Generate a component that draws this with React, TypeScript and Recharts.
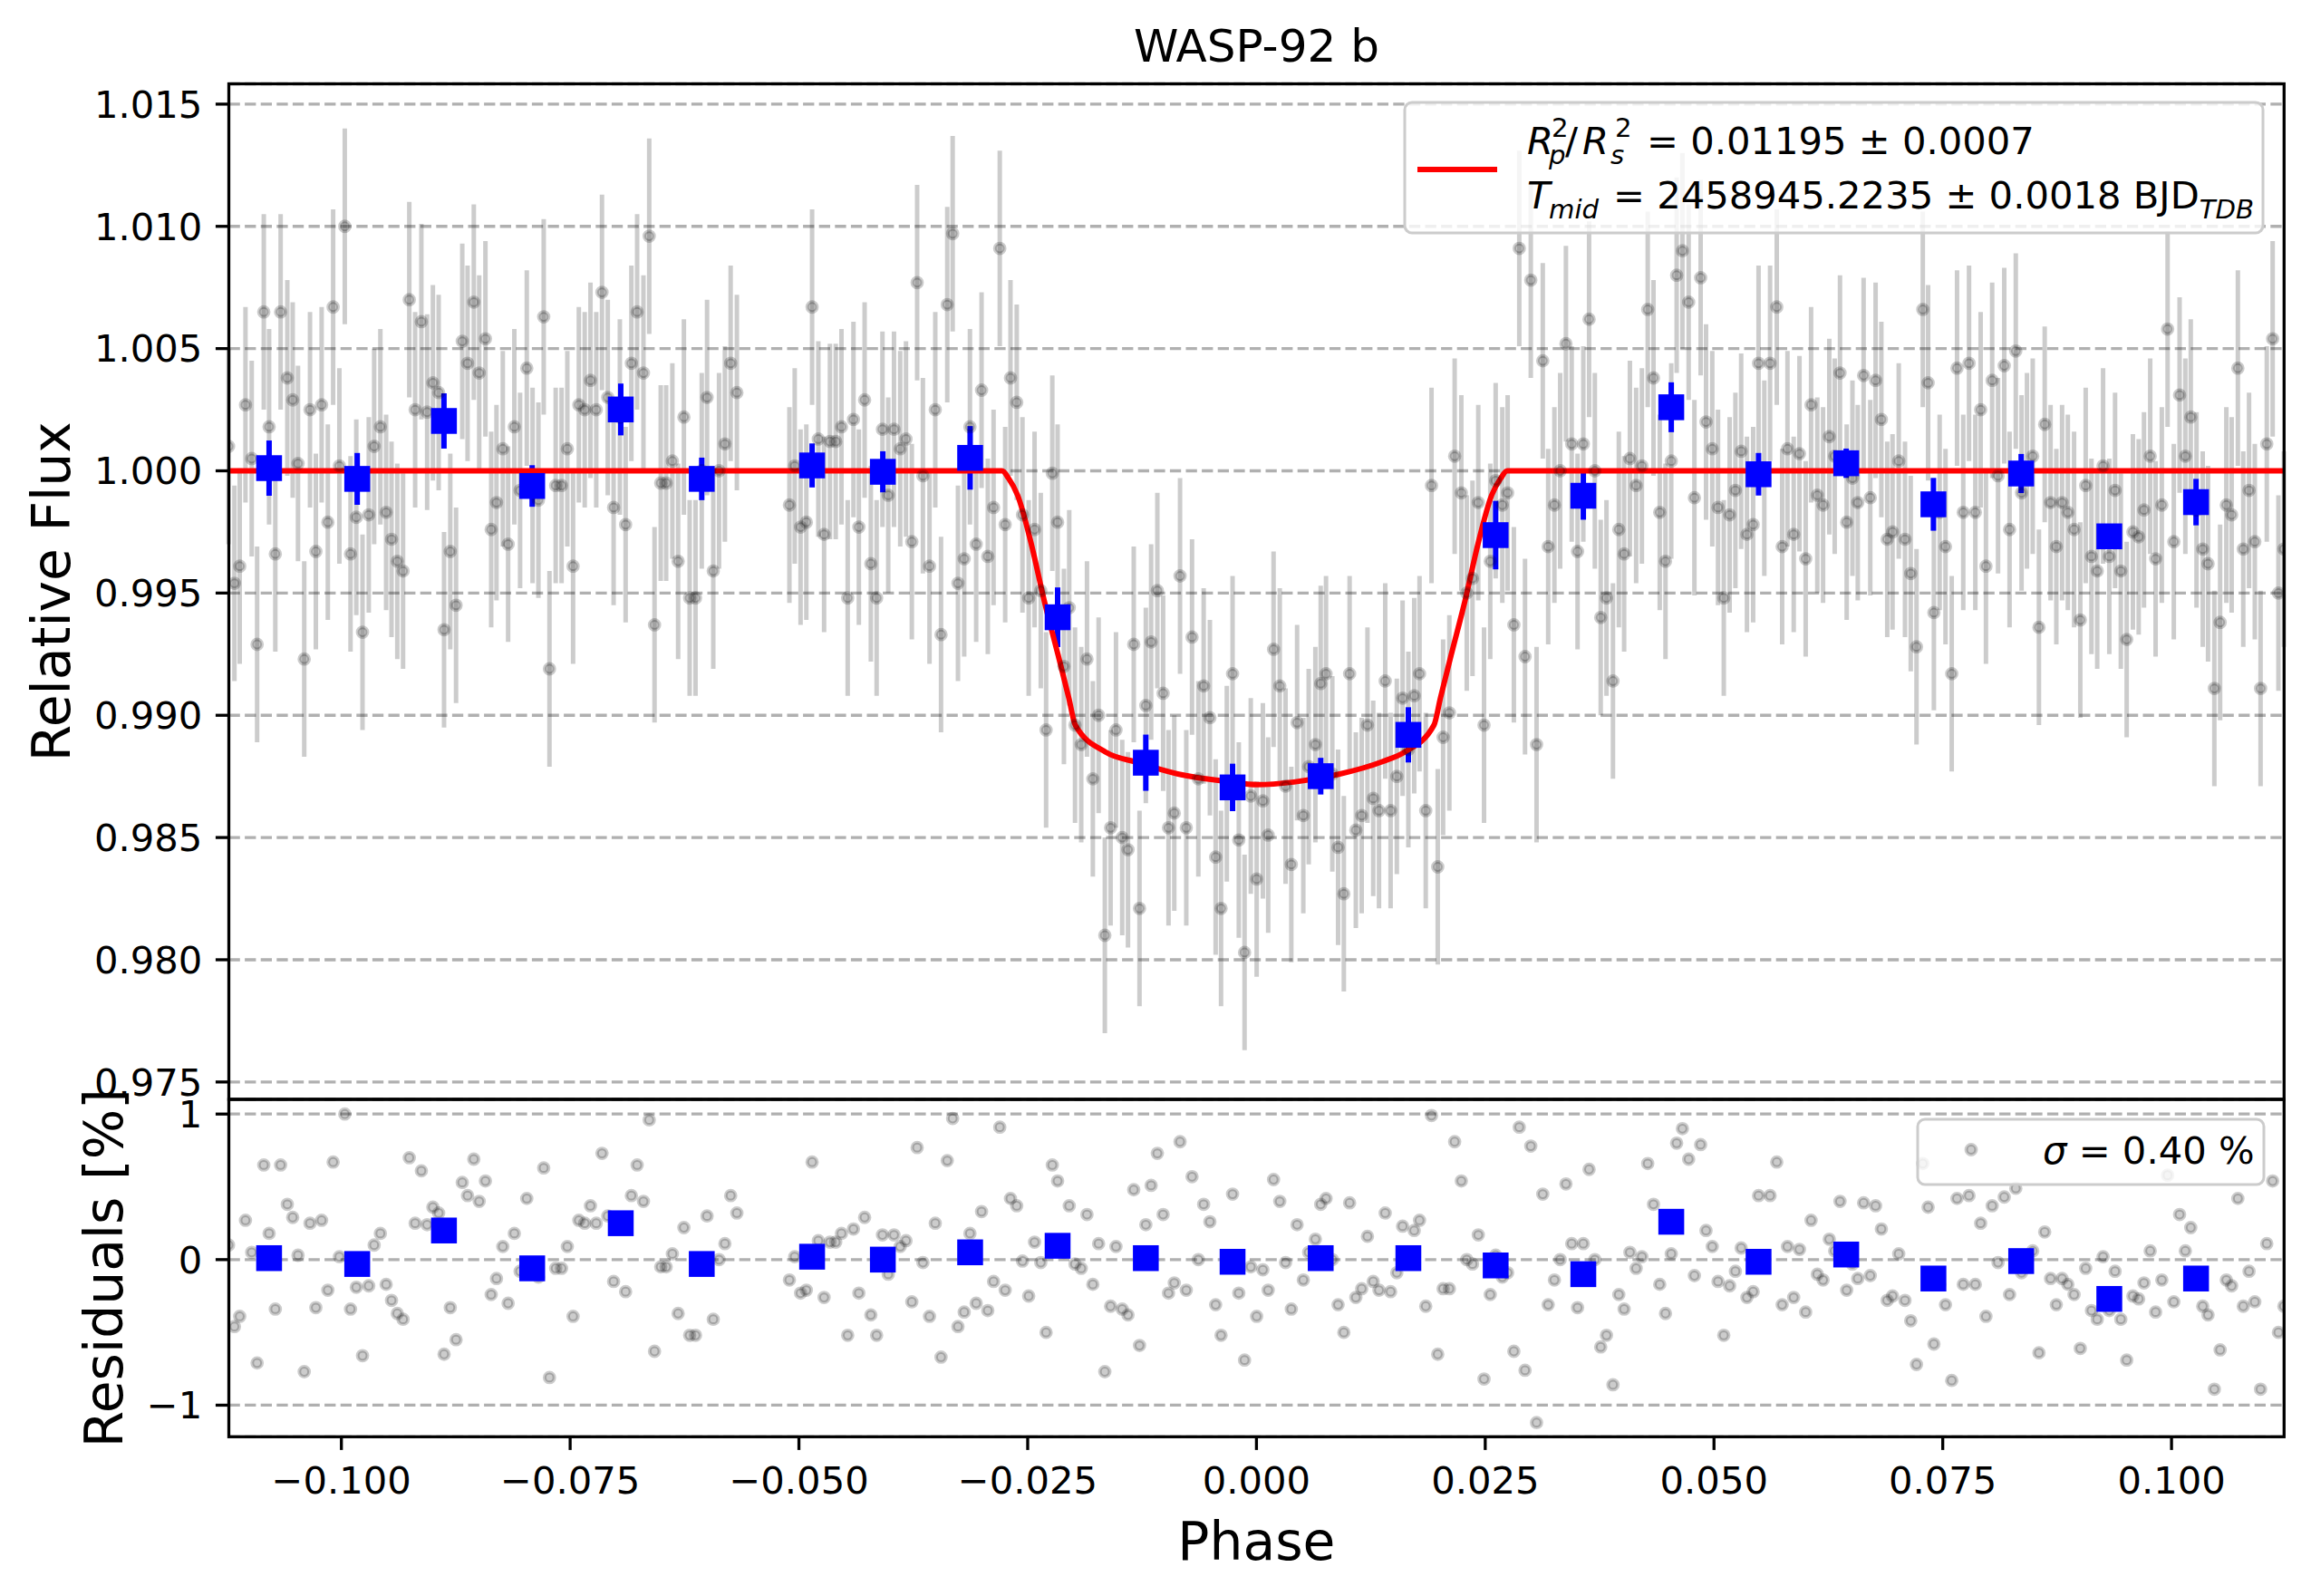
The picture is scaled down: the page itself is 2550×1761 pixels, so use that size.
import React from "react";
import {
  CartesianGrid,
  ComposedChart,
  ErrorBar,
  Line,
  Scatter,
  XAxis,
  YAxis,
} from "recharts";

const FONT = "'DejaVu Sans', sans-serif";
const W = 2550;
const H = 1761;

// plot box edges in page pixels
const LEFT = 252.5;
const RIGHT = 2520.3;
const TOP = 92.5;
const SPLIT = 1213;
const BOTTOM = 1585.3;
const Y_AXIS_W = 100;
const X_AXIS_H = 80;

const PHASE_DOMAIN = [-0.1123, 0.1123];
const FLUX_DOMAIN = [0.97429, 1.01583];
const RESID_DOMAIN = [-1.217, 1.101];

const PHASE_TICKS = [-0.1, -0.075, -0.05, -0.025, 0, 0.025, 0.05, 0.075, 0.1];
const FLUX_TICKS = [0.975, 0.98, 0.985, 0.99, 0.995, 1.0, 1.005, 1.01, 1.015];
const RESID_TICKS = [-1, 0, 1];

// unbinned light curve
const PHASE = [
  -0.11233, -0.11169, -0.11111, -0.11048, -0.1098, -0.10921, -0.10848, -0.1079, -0.10722, -0.10664,
  -0.10591, -0.10532, -0.10474, -0.10406, -0.10343, -0.10279, -0.10216, -0.10148, -0.1009, -0.10022,
  -0.09963, -0.099, -0.09837, -0.09769, -0.09701, -0.09642, -0.09574, -0.09511, -0.09452, -0.09389,
  -0.09326, -0.09258, -0.09194, -0.09126, -0.09063, -0.09, -0.08937, -0.08878, -0.0881, -0.08747,
  -0.08679, -0.08621, -0.08553, -0.08494, -0.08426, -0.08363, -0.08305, -0.08236, -0.08178, -0.0811,
  -0.08047, -0.07974, -0.07911, -0.07847, -0.07789, -0.07726, -0.07658, -0.07594, -0.07531, -0.07468,
  -0.07405, -0.07341, -0.07278, -0.07215, -0.07152, -0.07089, -0.07025, -0.06957, -0.06894, -0.06831,
  -0.06768, -0.06699, -0.06636, -0.06578, -0.0651, -0.06451, -0.06383, -0.0632, -0.06257, -0.06194,
  -0.0613, -0.06062, -0.06004, -0.05936, -0.05873, -0.05809, -0.05746, -0.05678,
  -0.05104, -0.05046, -0.04982, -0.04919, -0.04856, -0.04788, -0.04725, -0.04661, -0.04598, -0.04535,
  -0.04467, -0.04404, -0.04345, -0.04282, -0.04214, -0.04151, -0.04087, -0.04024, -0.03961, -0.03893,
  -0.0383, -0.03766, -0.03708, -0.03645,
  -0.03573, -0.0351, -0.03447, -0.03379, -0.0332, -0.03262, -0.03194, -0.03131, -0.03063, -0.03004,
  -0.02936, -0.02873, -0.02805, -0.02746, -0.02688, -0.0262, -0.02557, -0.02489, -0.02425, -0.02357,
  -0.02299, -0.02231, -0.02173, -0.02104, -0.02046, -0.01983, -0.01915, -0.01852, -0.01788, -0.01725,
  -0.01657, -0.01594, -0.01535, -0.01467, -0.01404, -0.01341, -0.01278, -0.01209, -0.01151, -0.01083,
  -0.0102, -0.00961, -0.00898, -0.00835, -0.00767, -0.00704, -0.00635, -0.00577, -0.00509, -0.00446,
  -0.00387, -0.00324, -0.00261, -0.00193, -0.0013, -0.00062, 0.00002, 0.0007, 0.00128, 0.00187,
  0.00255, 0.00318, 0.00381, 0.00444, 0.00512, 0.00571, 0.00644, 0.00702, 0.0076, 0.00829,
  0.00892, 0.00955, 0.01018, 0.01086, 0.0115, 0.01213, 0.01276, 0.01339, 0.01407, 0.01466,
  0.01534, 0.01597, 0.0166, 0.01724, 0.01782, 0.0185, 0.01913, 0.01981, 0.0204, 0.02108,
  0.02166, 0.02239, 0.02298, 0.02361, 0.02424, 0.02487, 0.02555, 0.02614, 0.02687, 0.02745,
  0.02813, 0.02872, 0.02935, 0.02998, 0.03061, 0.03129, 0.03188, 0.03256, 0.03319, 0.03382,
  0.03445, 0.03509, 0.03572, 0.03635, 0.03698, 0.03762, 0.03825,
  0.03896, 0.0396, 0.04018, 0.04081, 0.04149, 0.04212, 0.04276, 0.04339, 0.04407, 0.0447,
  0.04533, 0.04592, 0.04655, 0.04723, 0.04786, 0.04854, 0.04913, 0.04981, 0.05044, 0.05107,
  0.05171, 0.05234, 0.05297, 0.0536, 0.05428, 0.05487, 0.0555, 0.05613, 0.05686, 0.05745,
  0.05803, 0.05871, 0.05934, 0.06002, 0.06061, 0.06129, 0.06192, 0.0626, 0.06319, 0.06377,
  0.0645, 0.06513, 0.06571, 0.06635, 0.06708, 0.06766, 0.06829, 0.06893, 0.06951, 0.07019,
  0.07087, 0.0715, 0.07213, 0.07282, 0.0734, 0.07403, 0.07466, 0.0753, 0.07598, 0.07656,
  0.07724, 0.07787, 0.07856, 0.07914, 0.07972, 0.0804, 0.08104, 0.08172, 0.0823, 0.08298,
  0.08361, 0.0842, 0.08483, 0.08551, 0.08614, 0.08678, 0.08741, 0.08804, 0.08867, 0.08935,
  0.09003, 0.09062, 0.09125, 0.09188, 0.09252, 0.0932, 0.09383, 0.09446, 0.0951, 0.09578,
  0.09641, 0.09699, 0.09767, 0.09826, 0.09894, 0.09957, 0.10025, 0.10088, 0.10151, 0.1021,
  0.10273, 0.10341, 0.10399, 0.10468, 0.10531, 0.10599, 0.10657, 0.10725, 0.10784, 0.10847,
  0.1091, 0.10973, 0.11041, 0.11105, 0.11168, 0.11228,
];

const FLUX = [
  1.001, 0.9954, 0.9961, 1.0027, 1.0005, 0.9929, 1.0065, 1.0018, 0.9966, 1.0065,
  1.0038, 1.0029, 1.0003, 0.9923, 1.0025, 0.9967, 1.0027, 0.9979, 1.0067, 1.0002,
  1.01, 0.9966, 0.9981, 0.9934, 0.9982, 1.001, 1.0018, 0.9983, 0.9972, 0.9963,
  0.9959, 1.007, 1.0025, 1.0061, 1.0024, 1.0036, 1.0032, 0.9935, 0.9967, 0.9945,
  1.0053, 1.0044, 1.0069, 1.004, 1.0054, 0.9976, 0.9987, 1.0009, 0.997, 1.0018,
  0.9992, 1.0042, 0.9994, 0.9988, 1.0063, 0.9919, 0.9994, 0.9994, 1.0009, 0.9961,
  1.0027, 1.0025, 1.0037, 1.0025, 1.0073, 1.003, 0.9985, 1.0022, 0.9978, 1.0044,
  1.0065, 1.004, 1.0096, 0.9937, 0.9995, 0.9995, 1.0004, 0.9963, 1.0022, 0.9948,
  0.9948, 1.0, 1.003, 0.9959, 1.0, 1.0011, 1.0044, 1.0032,
  0.9986, 1.0002, 0.9977, 0.9979, 1.0067, 1.0013, 0.9974, 1.0012, 1.0012, 1.0018,
  0.9948, 1.0021, 0.9977, 1.0029, 0.9962, 0.9948, 1.0017, 0.999, 1.0017, 1.0009,
  1.0013, 0.9971, 1.0077, 0.9998,
  0.9961, 1.0025, 0.9933, 1.0068, 1.0097, 0.9954, 0.9964, 1.0018, 0.997, 1.0033,
  0.9965, 0.9985, 1.0091, 0.9978, 1.0038, 1.0028, 0.9982, 0.9948, 0.9976, 0.9951,
  0.9894, 0.9999, 0.9979, 0.992, 0.9944, 0.9896, 0.9888, 0.9923, 0.9874, 0.99,
  0.981, 0.9854, 0.9894, 0.985, 0.9845, 0.9929, 0.9821, 0.9904, 0.993, 0.9951,
  0.9909, 0.9854, 0.986, 0.9957, 0.9854, 0.9932, 0.9874, 0.9912, 0.9899, 0.9842,
  0.9821, 0.9872, 0.9917, 0.9849, 0.9803, 0.9867, 0.9833, 0.9865, 0.9851, 0.9927,
  0.9912, 0.9871, 0.9839, 0.9897, 0.9859, 0.9879, 0.9888, 0.9913, 0.9917, 0.9876,
  0.9846, 0.9827, 0.9917, 0.9853, 0.9859, 0.9896, 0.9866, 0.9861, 0.9914, 0.9861,
  0.9875, 0.9907, 0.9886, 0.9908, 0.9917, 0.9861, 0.9994, 0.9838, 0.9891, 0.9901,
  1.0006, 0.9991, 0.995, 0.9956, 0.9987, 0.9896, 0.9963, 0.9996, 0.9986, 0.9991,
  0.9937, 1.0091, 0.9924, 1.0078, 0.9888, 1.0045, 0.9969, 0.9986, 1.0, 1.0052,
  1.0011, 0.9967, 1.0011, 1.0062, 1.0, 0.994, 0.9948,
  0.9914, 0.9976, 0.9966, 1.0005, 0.9994, 1.0002, 1.0066, 1.0038, 0.9983, 0.9963,
  1.0004, 1.008, 1.009, 1.0069, 0.9989, 1.0079, 1.002, 1.0009, 0.9985, 0.9948,
  0.9982, 0.9992, 1.0008, 0.9974, 0.9978, 1.0044, 0.9997, 1.0044, 1.0067, 0.9969,
  1.0009, 0.9974, 1.0007, 0.9964, 1.0027, 0.999, 0.9986, 1.0014, 1.0006, 1.004,
  0.9979, 0.9997, 0.9987, 1.0039, 0.9989, 1.0037, 1.0021, 0.9972, 0.9975, 1.0004,
  0.9972, 0.9958, 0.9928, 1.0066, 1.0036, 0.9942, 0.9983, 0.9969, 0.9917, 1.0042,
  0.9983, 1.0044, 0.9983, 1.0025, 0.9961, 1.0037, 0.9998, 1.0043, 0.9976, 1.0049,
  0.9991, 1.0, 1.0006, 0.9936, 1.0019, 0.9987, 0.9969, 0.9987, 0.9983, 0.9976,
  0.9939, 0.9994, 0.9965, 0.9959, 1.0002, 0.9965, 0.9992, 0.9959, 0.9931, 0.9975,
  0.9973, 0.9984, 1.0006, 0.9964, 0.9986, 1.0058, 0.9971, 1.0031, 1.0006, 1.0022,
  0.9984, 0.9968, 0.9962, 0.9911, 0.9938, 0.9986, 0.9982, 1.0042, 0.9968, 0.9992,
  0.9971, 0.9911, 1.0011, 1.0054, 0.995, 0.9968,
];

// residuals in percent
const RESID = [
  0.1, -0.46, -0.39, 0.27, 0.05, -0.71, 0.65, 0.18, -0.34, 0.65,
  0.38, 0.29, 0.03, -0.77, 0.25, -0.33, 0.27, -0.21, 0.67, 0.02,
  1.0, -0.34, -0.19, -0.66, -0.18, 0.1, 0.18, -0.17, -0.28, -0.37,
  -0.41, 0.7, 0.25, 0.61, 0.24, 0.36, 0.32, -0.65, -0.33, -0.55,
  0.53, 0.44, 0.69, 0.4, 0.54, -0.24, -0.13, 0.09, -0.3, 0.18,
  -0.08, 0.42, -0.06, -0.12, 0.63, -0.81, -0.06, -0.06, 0.09, -0.39,
  0.27, 0.25, 0.37, 0.25, 0.73, 0.3, -0.15, 0.22, -0.22, 0.44,
  0.65, 0.4, 0.96, -0.63, -0.05, -0.05, 0.04, -0.37, 0.22, -0.52,
  -0.52, 0.0, 0.3, -0.41, 0.0, 0.11, 0.44, 0.32,
  -0.14, 0.02, -0.23, -0.21, 0.67, 0.13, -0.26, 0.12, 0.12, 0.18,
  -0.52, 0.21, -0.23, 0.29, -0.38, -0.52, 0.17, -0.1, 0.17, 0.09,
  0.13, -0.29, 0.77, -0.02,
  -0.39, 0.25, -0.67, 0.68, 0.97, -0.46, -0.36, 0.18, -0.3, 0.33,
  -0.35, -0.15, 0.91, -0.21, 0.42, 0.37, -0.01, -0.25, 0.12, -0.02,
  -0.5, 0.65, 0.54, 0.05, 0.37, -0.03, -0.06, 0.31, -0.17, 0.11,
  -0.77, -0.32, 0.09, -0.34, -0.38, 0.48, -0.59, 0.24, 0.51, 0.73,
  0.31, -0.23, -0.16, 0.81, -0.21, 0.57, 0.0, 0.38, 0.26, -0.31,
  -0.52, 0.0, 0.45, -0.23, -0.69, -0.05, -0.39, -0.07, -0.21, 0.55,
  0.4, -0.02, -0.34, 0.24, -0.14, 0.05, 0.14, 0.38, 0.42, 0.0,
  -0.31, -0.5, 0.39, -0.26, -0.2, 0.16, -0.15, -0.21, 0.32, -0.22,
  -0.09, 0.23, 0.0, 0.2, 0.27, -0.32, 0.99, -0.65, -0.2, -0.2,
  0.81, 0.54, 0.0, -0.03, 0.17, -0.82, -0.24, 0.03, -0.12, -0.09,
  -0.63, 0.91, -0.76, 0.78, -1.12, 0.45, -0.31, -0.14, 0.0, 0.52,
  0.11, -0.33, 0.11, 0.62, 0.0, -0.6, -0.52,
  -0.86, -0.24, -0.34, 0.05, -0.06, 0.02, 0.66, 0.38, -0.17, -0.37,
  0.04, 0.8, 0.9, 0.69, -0.11, 0.79, 0.2, 0.09, -0.15, -0.52,
  -0.18, -0.08, 0.08, -0.26, -0.22, 0.44, -0.03, 0.44, 0.67, -0.31,
  0.09, -0.26, 0.07, -0.36, 0.27, -0.1, -0.14, 0.14, 0.06, 0.4,
  -0.21, -0.03, -0.13, 0.39, -0.11, 0.37, 0.21, -0.28, -0.25, 0.04,
  -0.28, -0.42, -0.72, 0.66, 0.36, -0.58, -0.17, -0.31, -0.83, 0.42,
  -0.17, 0.44, -0.17, 0.25, -0.39, 0.37, -0.02, 0.43, -0.24, 0.49,
  -0.09, 0.0, 0.06, -0.64, 0.19, -0.13, -0.31, -0.13, -0.17, -0.24,
  -0.61, -0.06, -0.35, -0.41, 0.02, -0.35, -0.08, -0.41, -0.69, -0.25,
  -0.27, -0.16, 0.06, -0.36, -0.14, 0.58, -0.29, 0.31, 0.06, 0.22,
  -0.16, -0.32, -0.38, -0.89, -0.62, -0.14, -0.18, 0.42, -0.32, -0.08,
  -0.29, -0.89, 0.11, 0.54, -0.5, -0.32,
];

const FLUX_ERR = 0.004;

// binned points
const BIN_PHASE = [
  -0.1079, -0.09827, -0.08879, -0.07915, -0.06947, -0.06062, -0.04856, -0.04083, -0.03129, -0.02173,
  -0.01209, -0.00261, 0.00702, 0.0166, 0.02614, 0.03572, 0.04533, 0.05487, 0.06445, 0.07398,
  0.08357, 0.0932, 0.10268,
];
const BIN_FLUX = [
  1.00011, 0.99967, 1.00204, 0.99938, 1.00251, 0.99967, 1.00022, 0.99996, 1.00053, 0.99401,
  0.98806, 0.98705, 0.98751, 0.9892, 0.99737, 0.99898, 1.0026, 0.99986, 1.00031, 0.99863,
  0.99989, 0.99732, 0.99872,
];
const BIN_ERR = [
  0.00113, 0.00106, 0.00113, 0.00085, 0.00106, 0.00087, 0.0009, 0.00084, 0.0013, 0.00122,
  0.00115, 0.00097, 0.00075, 0.00113, 0.0014, 0.00098, 0.00102, 0.00087, 0.0006, 0.00108,
  0.0008, 0.0005, 0.00095,
];
const BIN_RESID = [
  0.01, -0.03, 0.2, -0.06, 0.25, -0.03, 0.02, 0.0, 0.05, 0.095,
  0.01, -0.015, 0.01, 0.01, -0.04, -0.1, 0.26, -0.015, 0.035, -0.13,
  -0.01, -0.27, -0.13,
];

// transit model
const MODEL_PHASE = [
  -0.1123, -0.0278, -0.0271, -0.0261, -0.0246, -0.0232, -0.0217, -0.0205, -0.0198, -0.0165,
  -0.013, -0.0081, -0.0032, 0.0001, 0.0041, 0.0089, 0.0138, 0.0162, 0.0194, 0.0201,
  0.0213, 0.0228, 0.0242, 0.0257, 0.0267, 0.0274, 0.1123,
];
const MODEL_FLUX = [
  1.0, 1.0, 0.9997, 0.999, 0.997, 0.9947, 0.9925, 0.9907, 0.9896, 0.9885,
  0.98807, 0.98756, 0.98729, 0.98716, 0.98727, 0.98758, 0.98811, 0.9885, 0.9896, 0.9907,
  0.9925, 0.9947, 0.997, 0.999, 0.9997, 1.0, 1.0,
];

const points = PHASE.map((phase, i) => ({
  phase,
  flux: FLUX[i],
  err: FLUX_ERR,
  res: RESID[i],
}));
const bins = BIN_PHASE.map((phase, i) => ({
  phase,
  flux: BIN_FLUX[i],
  err: BIN_ERR[i],
  res: BIN_RESID[i],
}));
const model = MODEL_PHASE.map((phase, i) => ({ phase, flux: MODEL_FLUX[i] }));

const tickStyle = { fontSize: 41.7, fill: "#000", fontFamily: FONT };
const tickLineStyle = { stroke: "#000", strokeWidth: 3.3 };
const gridProps = {
  vertical: false,
  stroke: "#b0b0b0",
  strokeWidth: 3.3,
  strokeDasharray: "12.3 5.3",
};

const fmtPhase = (v: number) => (v < 0 ? "\u2212" : "") + Math.abs(v).toFixed(3);
const fmtResid = (v: number) => (v < 0 ? "\u2212" + Math.abs(v) : String(v));

const GrayDot = (props: any) => (
  <circle
    cx={props.cx}
    cy={props.cy}
    r={5.4}
    fill="#000"
    fillOpacity={0.2}
    stroke="#000"
    strokeOpacity={0.2}
    strokeWidth={4}
  />
);

const BlueSquare = (props: any) => (
  <rect x={props.cx - 14.25} y={props.cy - 14.25} width={28.5} height={28.5} fill="#0000ff" />
);

function FluxPanel() {
  return (
    <ComposedChart
      width={W}
      height={SPLIT}
      margin={{ top: TOP, right: W - RIGHT, bottom: 0, left: LEFT - Y_AXIS_W }}
    >
      <CartesianGrid {...gridProps} />
      <XAxis
        type="number"
        dataKey="phase"
        domain={PHASE_DOMAIN}
        allowDataOverflow
        ticks={PHASE_TICKS}
        hide
        height={0}
      />
      <YAxis
        type="number"
        dataKey="flux"
        domain={FLUX_DOMAIN}
        allowDataOverflow
        ticks={FLUX_TICKS}
        interval={0}
        width={Y_AXIS_W}
        axisLine={false}
        tickLine={tickLineStyle}
        tickSize={14.6}
        tickMargin={14.6}
        tick={tickStyle}
        tickFormatter={(v: number) => v.toFixed(3)}
      />
      <Scatter data={points} dataKey="flux" shape={GrayDot} isAnimationActive={false}>
        <ErrorBar
          dataKey="err"
          direction="y"
          width={0}
          stroke="rgba(0,0,0,0.2)"
          strokeWidth={5}
          isAnimationActive={false}
        />
      </Scatter>
      <Scatter data={bins} dataKey="flux" shape={BlueSquare} isAnimationActive={false}>
        <ErrorBar
          dataKey="err"
          direction="y"
          width={0}
          stroke="#0000ff"
          strokeWidth={6}
          isAnimationActive={false}
        />
      </Scatter>
      <Line
        data={model}
        dataKey="flux"
        type="monotone"
        stroke="#ff0000"
        strokeWidth={6}
        dot={false}
        activeDot={false}
        isAnimationActive={false}
      />
    </ComposedChart>
  );
}

function ResidualPanel() {
  const height = H - SPLIT;
  return (
    <ComposedChart
      width={W}
      height={height}
      margin={{
        top: 0,
        right: W - RIGHT,
        bottom: height - (BOTTOM - SPLIT) - X_AXIS_H,
        left: LEFT - Y_AXIS_W,
      }}
    >
      <CartesianGrid {...gridProps} />
      <XAxis
        type="number"
        dataKey="phase"
        domain={PHASE_DOMAIN}
        allowDataOverflow
        ticks={PHASE_TICKS}
        interval={0}
        height={X_AXIS_H}
        axisLine={false}
        tickLine={tickLineStyle}
        tickSize={14.6}
        tickMargin={18}
        tick={tickStyle}
        tickFormatter={fmtPhase}
      />
      <YAxis
        type="number"
        dataKey="res"
        domain={RESID_DOMAIN}
        allowDataOverflow
        ticks={RESID_TICKS}
        interval={0}
        width={Y_AXIS_W}
        axisLine={false}
        tickLine={tickLineStyle}
        tickSize={14.6}
        tickMargin={14.6}
        tick={tickStyle}
        tickFormatter={fmtResid}
      />
      <Scatter data={points} dataKey="res" shape={GrayDot} isAnimationActive={false} />
      <Scatter data={bins} dataKey="res" shape={BlueSquare} isAnimationActive={false} />
    </ComposedChart>
  );
}

function Overlay() {
  const sub = 29.2;
  return (
    <svg
      width={W}
      height={H}
      style={{ position: "absolute", left: 0, top: 0, pointerEvents: "none" }}
      fontFamily={FONT}
    >
      <text x={(LEFT + RIGHT) / 2} y={68} textAnchor="middle" fontSize={50}>
        WASP-92 b
      </text>
      <text
        transform={`translate(77,${(TOP + SPLIT) / 2}) rotate(-90)`}
        textAnchor="middle"
        fontSize={58.3}
      >
        Relative Flux
      </text>
      <text
        transform={`translate(134.5,${(SPLIT + BOTTOM) / 2}) rotate(-90)`}
        textAnchor="middle"
        fontSize={58.3}
      >
        Residuals [%]
      </text>
      <text x={(LEFT + RIGHT) / 2} y={1720.7} textAnchor="middle" fontSize={58.3}>
        Phase
      </text>

      {/* fit legend */}
      <rect
        x={1550}
        y={113}
        width={947}
        height={144}
        rx={8}
        fill="#fff"
        fillOpacity={0.8}
        stroke="#cccccc"
        strokeWidth={3}
      />
      <line x1={1564} x2={1652} y1={187} y2={187} stroke="#ff0000" strokeWidth={6} />
      <g fontSize={41.7}>
        <text x={1685} y={170} fontStyle="italic">R</text>
        <text x={1712} y={151} fontSize={sub}>2</text>
        <text x={1709} y={181} fontSize={sub} fontStyle="italic">p</text>
        <text x={1727} y={170}>/</text>
        <text x={1746} y={170} fontStyle="italic">R</text>
        <text x={1782} y={151} fontSize={sub}>2</text>
        <text x={1777} y={181} fontSize={sub} fontStyle="italic">s</text>
        <text x={1817} y={170}>= 0.01195 ± 0.0007</text>
        <text x={1685} y={230} fontStyle="italic">T</text>
        <text x={1709} y={241} fontSize={sub} fontStyle="italic">mid</text>
        <text x={1780} y={230}>
          = 2458945.2235 ± 0.0018 BJD
          <tspan fontSize={sub} fontStyle="italic" dy={11}>TDB</tspan>
        </text>
      </g>

      {/* residual legend */}
      <rect
        x={2116}
        y={1235}
        width={382}
        height={72}
        rx={8}
        fill="#fff"
        fillOpacity={0.8}
        stroke="#cccccc"
        strokeWidth={3}
      />
      <circle
        cx={2175}
        cy={1268.5}
        r={5.4}
        fill="#000"
        fillOpacity={0.2}
        stroke="#000"
        strokeOpacity={0.2}
        strokeWidth={4}
      />
      <text x={2254} y={1284} fontSize={41.7}>
        <tspan fontStyle="italic">σ</tspan> = 0.40 %
      </text>

      {/* axes frames */}
      <rect
        x={LEFT}
        y={TOP}
        width={RIGHT - LEFT}
        height={SPLIT - TOP}
        fill="none"
        stroke="#000"
        strokeWidth={3.3}
      />
      <rect
        x={LEFT}
        y={SPLIT}
        width={RIGHT - LEFT}
        height={BOTTOM - SPLIT}
        fill="none"
        stroke="#000"
        strokeWidth={3.3}
      />
    </svg>
  );
}

export default function App() {
  return (
    <div
      style={{
        position: "absolute",
        left: 0,
        top: 0,
        width: W,
        height: H,
        background: "#fff",
        overflow: "hidden",
      }}
    >
      <div style={{ position: "absolute", left: 0, top: 0 }}>
        <FluxPanel />
      </div>
      <div style={{ position: "absolute", left: 0, top: SPLIT }}>
        <ResidualPanel />
      </div>
      <Overlay />
    </div>
  );
}
